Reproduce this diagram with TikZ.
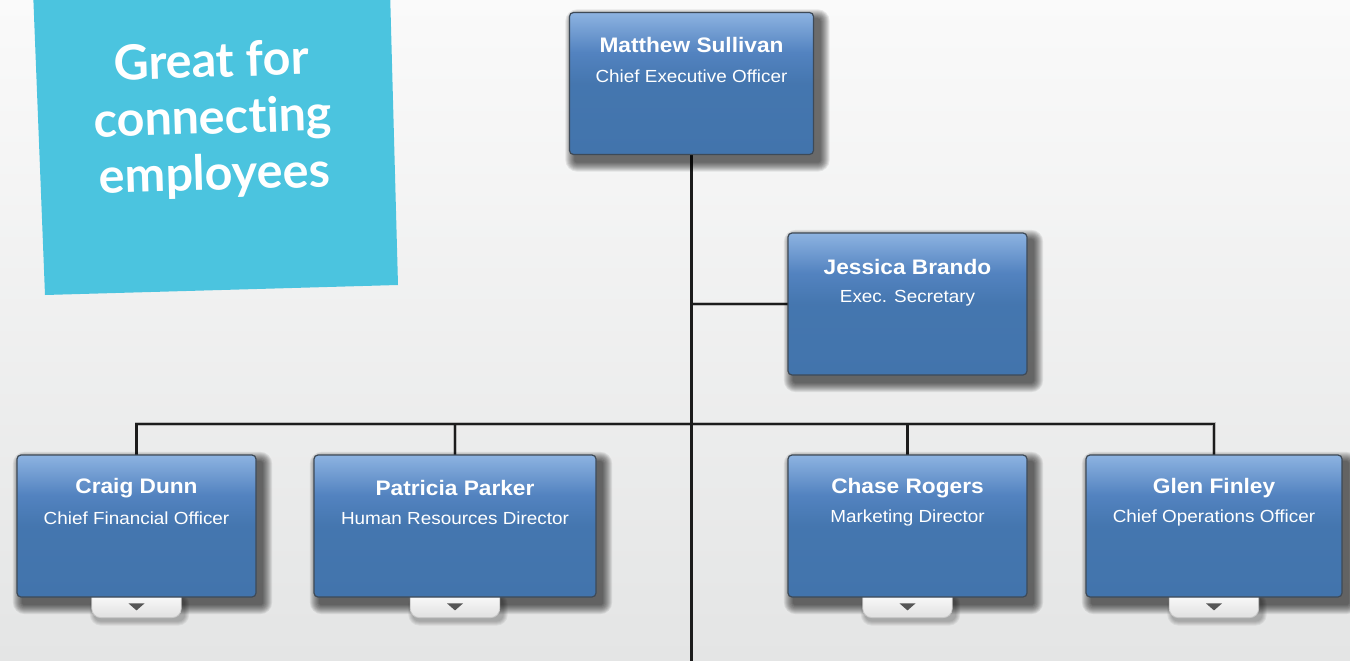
\documentclass[tikz,border=0pt]{standalone}
\usepackage{fontspec}
\setmainfont{Liberation Sans}
\newfontfamily\boxfont[FakeStretch=1.08]{Liberation Sans}
\newfontfamily\bannerfont[Ligatures=NoCommon]{Lato}
\usetikzlibrary{calc}
\definecolor{bgtop}{HTML}{FAFAFA}
\definecolor{bgbot}{HTML}{E4E5E5}
\definecolor{bannerc}{HTML}{4BC4DF}
\definecolor{boxtop}{HTML}{8DB3E1}
\definecolor{boxmid}{HTML}{5383C0}
\definecolor{boxbot}{HTML}{4274AC}
\colorlet{boxlow}{boxbot!85!boxmid}
\definecolor{boxedge}{HTML}{3E4A57}
\definecolor{linec}{HTML}{1C1C1C}
\definecolor{tabtop}{HTML}{FAFAFA}
\definecolor{tabbot}{HTML}{E0E0E0}
\definecolor{tabedge}{HTML}{C8C8C8}
\definecolor{tric}{HTML}{555555}
\pgfdeclareverticalshading{boxshade}{100bp}{color(0bp)=(boxbot); color(25bp)=(boxbot); color(50bp)=(boxlow); color(61bp)=(boxmid); color(75bp)=(boxtop); color(100bp)=(boxtop)}
\tikzset{
  slot/.style={rectangle, minimum height=142pt, inner sep=0pt},
  person/.style={rectangle, rounded corners=4pt, draw=boxedge, line width=1.2pt,
    shading=boxshade, minimum height=142pt, inner sep=0pt},
  shadowlayer/.style={fill=black, opacity=0.08},
  pname/.style={font=\boxfont\bfseries\fontsize{21}{24}\selectfont, text=white, inner sep=0pt},
  ptitle/.style={font=\boxfont\fontsize{17.5}{20}\selectfont, text=white, inner sep=0pt},
  conn/.style={draw=linec, line width=2.6pt},
  connshadow/.style={draw=black, opacity=0.22, line width=3.5pt, xshift=2pt, yshift=-2pt},
  tabbox/.style={minimum width=89pt, minimum height=22pt, inner sep=0pt},
  tabshape/.style={draw=tabedge, line width=0.8pt, rounded corners=9pt, top color=tabtop, bottom color=tabbot},
  tri/.style={fill=tric},
}
% soft shadow built from stacked translucent rounded rectangles
\newcommand\softshadow[4]{% node, dx, dy, layers
  \foreach \r in {1,...,#4}{%
    \fill[shadowlayer, rounded corners={\r pt+2pt}]
      ($(#1.north west)+(#2-\r,#3-\r)$) rectangle ($(#1.south east)+(#2+\r,#3+\r)$);
  }%
}
\newcommand\mytab[1]{%
  \node[tabbox, anchor=north] (#1tab) at ($(#1.south)+(0,-2)$) {};
  \foreach \r in {1,...,5}{%
    \fill[black, opacity=0.06, rounded corners={\r pt+6pt}]
      ($(#1tab.north west)+(3-\r,3-\r)$) rectangle ($(#1tab.south east)+(3+\r,3+\r)$);
  }
  \path[tabshape] (#1tab.north west) -- (#1tab.south west) -- (#1tab.south east) -- (#1tab.north east);
  \fill[tri] ($(#1tab.center)+(-8,-3)$) -- ++(16,0) -- ++(-8,7) -- cycle;
}
\begin{document}
\begin{tikzpicture}[x=1pt,y=-1pt]
\useasboundingbox (0,0) rectangle (1350,661);
\clip (0,0) rectangle (1350,661);
\shade[top color=bgtop, bottom color=bgbot] (0,0) rectangle (1350,661);

% banner
\fill[bannerc] (33,-10) -- (390,-10) -- (398,285) -- (45,295) -- cycle;
\node[rotate=1.7, align=center, text=white, inner sep=0pt,
  font=\bannerfont\bfseries\fontsize{48.5}{56.5}\selectfont] (banner) at (213,120) {Great for\\connecting\\employees};

% node placement (boxes drawn after connectors)
\node[slot, minimum width=244pt] (ceo) at (691.5,83.5) {};
\node[slot, minimum width=239pt] (jes) at (907.5,304) {};
\node[slot, minimum width=239pt] (craig) at (136.5,526) {};
\node[slot, minimum width=282pt] (pat) at (455,526) {};
\node[slot, minimum width=239pt] (chase) at (907.5,526) {};
\node[slot, minimum width=256pt] (glen) at (1214,526) {};

\coordinate (bottom) at (691.5,675);
\coordinate (bus) at (691.5,424);

% connector shadows
\draw[connshadow] (ceo.south) -- (bottom);
\draw[connshadow] (ceo.south |- jes.west) -- (jes.west);
\draw[connshadow] (craig.north) |- (bus) -| (glen.north);
\draw[connshadow] (pat.north) -- (pat.north |- bus);
\draw[connshadow] (chase.north) -- (chase.north |- bus);
% connectors
\draw[conn] (ceo.south) -- (bottom);
\draw[conn] (ceo.south |- jes.west) -- (jes.west);
\draw[conn] (craig.north) |- (bus) -| (glen.north);
\draw[conn] (pat.north) -- (pat.north |- bus);
\draw[conn] (chase.north) -- (chase.north |- bus);

% box shadows
\softshadow{ceo}{6}{7}{10}
\softshadow{jes}{6}{7}{10}
\softshadow{craig}{6}{7}{10}
\softshadow{pat}{6}{7}{10}
\softshadow{chase}{6}{7}{10}
\softshadow{glen}{6}{7}{10}

% tabs
\mytab{craig}
\mytab{pat}
\mytab{chase}
\mytab{glen}

% boxes
\node[person, minimum width=244pt] (ceobox) at (ceo) {};
\node[person, minimum width=239pt] (jesbox) at (jes) {};
\node[person, minimum width=239pt] (craigbox) at (craig) {};
\node[person, minimum width=282pt] (patbox) at (pat) {};
\node[person, minimum width=239pt] (chasebox) at (chase) {};
\node[person, minimum width=256pt] (glenbox) at (glen) {};

% texts
\node[pname]  (ceoN) at ($(ceo.north)+(0,33)$) {Matthew Sullivan};
\node[ptitle] (ceoT) at ($(ceo.north)+(0,64)$) {Chief Executive Officer};
\node[pname]  (jesN) at ($(jes.north)+(0,34)$) {Jessica Brando};
\node[ptitle] (jesT) at ($(jes.north)+(0,65)$) {Exec. Secretary};
\node[pname]  (craigN) at ($(craig.north)+(0,33)$) {Craig Dunn};
\node[ptitle] (craigT) at ($(craig.north)+(0,63)$) {Chief Financial Officer};
\node[pname]  (patN) at ($(pat.north)+(0,33)$) {Patricia Parker};
\node[ptitle] (patT) at ($(pat.north)+(0,63)$) {Human Resources Director};
\node[pname]  (chaseN) at ($(chase.north)+(0,33)$) {Chase Rogers};
\node[ptitle] (chaseT) at ($(chase.north)+(0,63)$) {Marketing Director};
\node[pname]  (glenN) at ($(glen.north)+(0,33)$) {Glen Finley};
\node[ptitle] (glenT) at ($(glen.north)+(0,63)$) {Chief Operations Officer};
\end{tikzpicture}
\end{document}
